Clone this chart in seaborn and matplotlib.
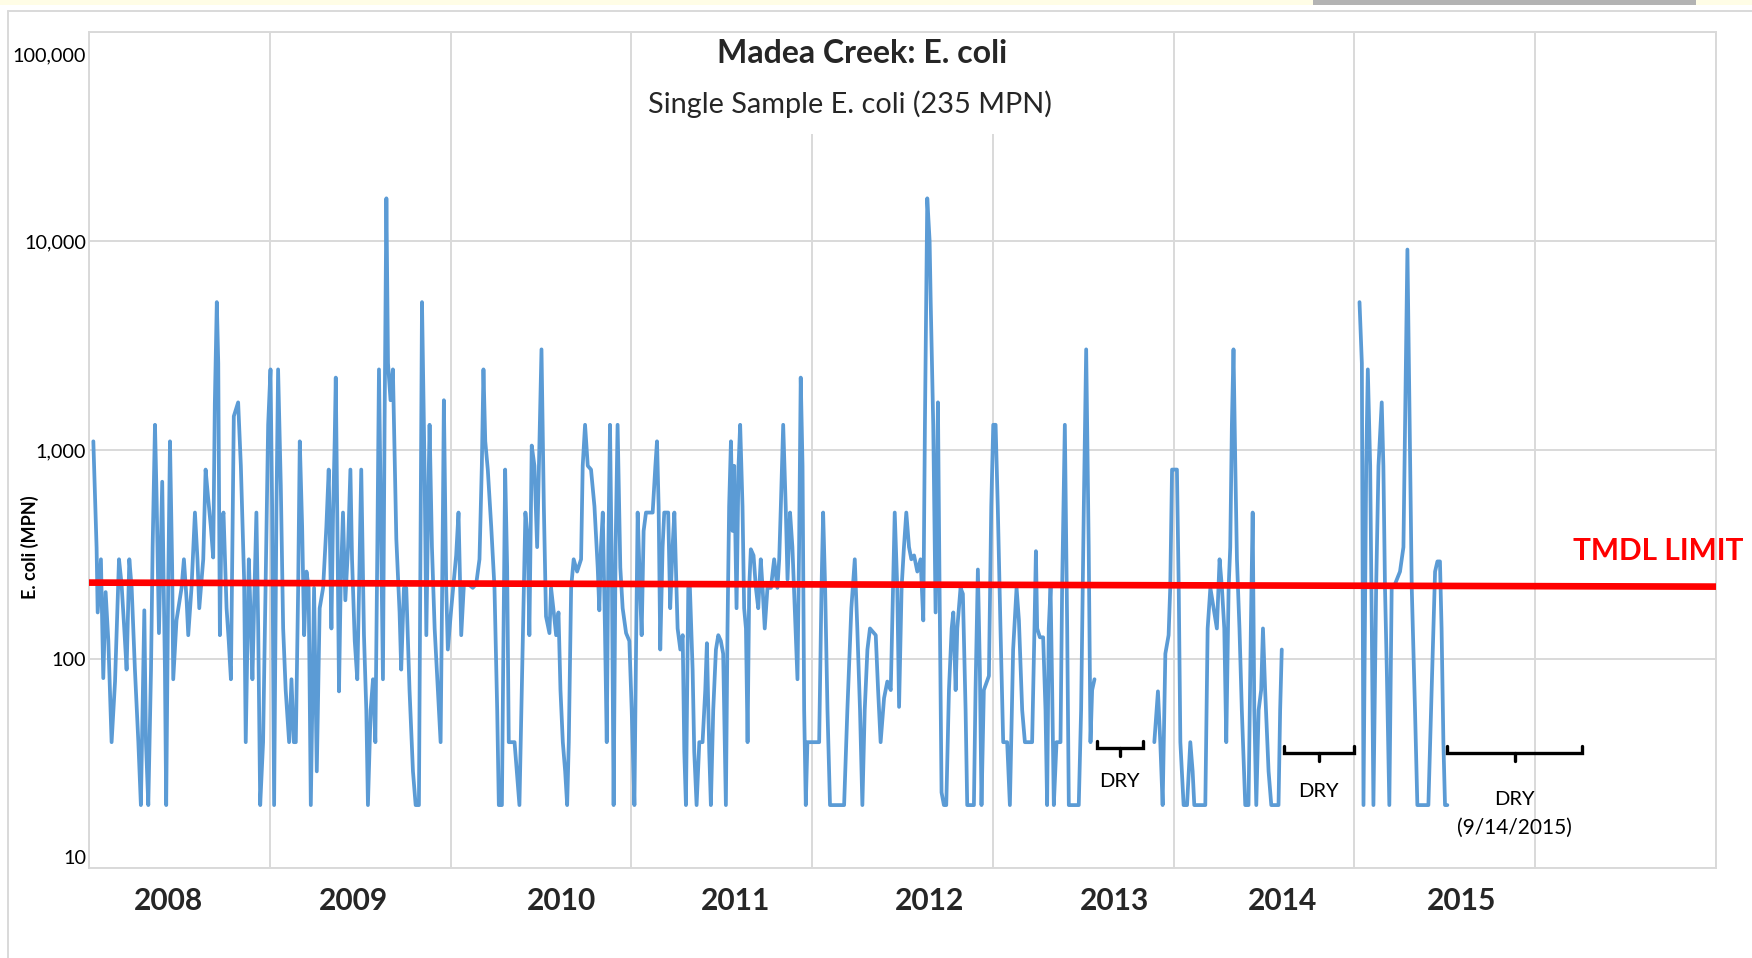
import numpy as np
import pandas as pd
import matplotlib
matplotlib.use("Agg")
import matplotlib.pyplot as plt
import matplotlib.ticker as mticker
import matplotlib.transforms as mtransforms
from matplotlib.patches import Rectangle
from matplotlib.lines import Line2D
import seaborn as sns

# E. coli samples: decimal year, MPN.
# Three wet stretches, separated by the dry periods.
wet1_year = [
    2008.024, 2008.042, 2008.048, 2008.066, 2008.079, 2008.092, 2008.107, 2008.125, 2008.144, 2008.166,
    2008.180, 2008.195, 2008.208, 2008.223, 2008.236, 2008.254, 2008.273, 2008.287, 2008.306, 2008.315,
    2008.328, 2008.343, 2008.352, 2008.365, 2008.374, 2008.387, 2008.405, 2008.420, 2008.427, 2008.438,
    2008.448, 2008.460, 2008.466, 2008.484, 2008.512, 2008.525, 2008.540, 2008.549, 2008.567, 2008.586,
    2008.600, 2008.610, 2008.632, 2008.645, 2008.659, 2008.674, 2008.687, 2008.696, 2008.707, 2008.715,
    2008.724, 2008.733, 2008.744, 2008.761, 2008.773, 2008.785, 2008.801, 2008.825, 2008.840, 2008.858,
    2008.867, 2008.884, 2008.895, 2008.904, 2008.913, 2008.926, 2008.936, 2008.947, 2008.963, 2008.982,
    2008.991, 2009.004, 2009.013, 2009.024, 2009.037, 2009.046, 2009.061, 2009.074, 2009.088, 2009.107,
    2009.120, 2009.133, 2009.144, 2009.157, 2009.166, 2009.179, 2009.190, 2009.203, 2009.215, 2009.227,
    2009.245, 2009.260, 2009.276, 2009.295, 2009.313, 2009.326, 2009.341, 2009.350, 2009.359, 2009.365,
    2009.374, 2009.383, 2009.392, 2009.405, 2009.418, 2009.433, 2009.446, 2009.455, 2009.470, 2009.484,
    2009.494, 2009.506, 2009.521, 2009.534, 2009.543, 2009.558, 2009.571, 2009.584, 2009.595, 2009.604,
    2009.611, 2009.626, 2009.635, 2009.645, 2009.654, 2009.668, 2009.681, 2009.700, 2009.718, 2009.727,
    2009.742, 2009.755, 2009.773, 2009.792, 2009.807, 2009.825, 2009.834, 2009.842, 2009.856, 2009.866,
    2009.878, 2009.884, 2009.897, 2009.912, 2009.930, 2009.945, 2009.958, 2009.963, 2009.976, 2009.985,
    2010.004, 2010.031, 2010.044, 2010.059, 2010.074, 2010.096, 2010.123, 2010.142, 2010.160, 2010.173,
    2010.182, 2010.192, 2010.206, 2010.225, 2010.243, 2010.258, 2010.267, 2010.284, 2010.291, 2010.302,
    2010.313, 2010.322, 2010.354, 2010.381, 2010.400, 2010.414, 2010.427, 2010.436, 2010.449, 2010.464,
    2010.479, 2010.503, 2010.516, 2010.528, 2010.547, 2010.556, 2010.571, 2010.584, 2010.597, 2010.608,
    2010.621, 2010.634, 2010.645, 2010.654, 2010.667, 2010.681, 2010.700, 2010.722, 2010.731, 2010.744,
    2010.759, 2010.777, 2010.796, 2010.814, 2010.823, 2010.832, 2010.842, 2010.854, 2010.864, 2010.873,
    2010.882, 2010.893, 2010.902, 2010.913, 2010.924, 2010.939, 2010.952, 2010.971, 2010.989, 2011.002,
    2011.017, 2011.026, 2011.035, 2011.048, 2011.057, 2011.068, 2011.081, 2011.118, 2011.133, 2011.142,
    2011.151, 2011.160, 2011.173, 2011.182, 2011.204, 2011.215, 2011.228, 2011.238, 2011.256, 2011.271,
    2011.284, 2011.293, 2011.302, 2011.315, 2011.324, 2011.339, 2011.348, 2011.361, 2011.376, 2011.394,
    2011.409, 2011.418, 2011.431, 2011.440, 2011.453, 2011.468, 2011.481, 2011.495, 2011.508, 2011.523,
    2011.532, 2011.541, 2011.551, 2011.560, 2011.569, 2011.582, 2011.593, 2011.602, 2011.615, 2011.624,
    2011.634, 2011.643, 2011.652, 2011.661, 2011.676, 2011.689, 2011.702, 2011.716, 2011.726, 2011.738,
    2011.753, 2011.772, 2011.790, 2011.808, 2011.818, 2011.827, 2011.840, 2011.854, 2011.864, 2011.878,
    2011.891, 2011.904, 2011.919, 2011.928, 2011.937, 2011.947, 2011.956, 2011.965, 2011.974, 2012.039,
    2012.052, 2012.061, 2012.072, 2012.085, 2012.099, 2012.177, 2012.195, 2012.217, 2012.236, 2012.250,
    2012.265, 2012.278, 2012.291, 2012.306, 2012.320, 2012.352, 2012.365, 2012.379, 2012.398, 2012.416,
    2012.435, 2012.448, 2012.457, 2012.471, 2012.481, 2012.495, 2012.508, 2012.521, 2012.536, 2012.549,
    2012.564, 2012.582, 2012.600, 2012.615, 2012.624, 2012.637, 2012.650, 2012.656, 2012.670, 2012.683,
    2012.696, 2012.705, 2012.716, 2012.729, 2012.742, 2012.757, 2012.772, 2012.781, 2012.794, 2012.803,
    2012.821, 2012.834, 2012.849, 2012.858, 2012.895, 2012.904, 2012.917, 2012.928, 2012.937, 2012.950,
    2012.978, 2012.991, 2013.002, 2013.015, 2013.027, 2013.042, 2013.057, 2013.079, 2013.094, 2013.112,
    2013.131, 2013.144, 2013.162, 2013.177, 2013.217, 2013.230, 2013.238, 2013.245, 2013.260, 2013.278,
    2013.291, 2013.300, 2013.309, 2013.319, 2013.328, 2013.337, 2013.352, 2013.374, 2013.383, 2013.398,
    2013.411, 2013.420, 2013.475, 2013.488, 2013.503, 2013.516, 2013.530, 2013.540, 2013.549, 2013.562,
]
wet1_mpn = [
    1100, 340, 167, 300, 81, 209, 122, 40, 78, 300,
    229, 140, 89, 300, 219, 89, 40, 20, 171, 40,
    20, 89, 343, 1320, 589, 133, 705, 89, 20, 219,
    1100, 274, 80, 153, 219, 300, 191, 130, 219, 502,
    300, 175, 300, 806, 589, 429, 306, 1660, 5100, 2600,
    130, 449, 502, 175, 122, 80, 1450, 1690, 840, 240,
    40, 300, 153, 80, 175, 502, 140, 20, 40, 429,
    1320, 2430, 537, 20, 537, 2430, 673, 140, 71, 40,
    80, 40, 40, 219, 1100, 429, 130, 262, 219, 20,
    219, 29, 175, 219, 429, 806, 140, 491, 1100, 2220,
    429, 70, 219, 502, 191, 343, 806, 300, 122, 80,
    219, 806, 130, 57, 20, 57, 80, 40, 343, 2430,
    840, 80, 1320, 16000, 2600, 1730, 2430, 375, 167, 89,
    219, 219, 71, 29, 20, 20, 343, 5100, 840, 130,
    673, 1320, 343, 140, 71, 40, 537, 1730, 219, 111,
    175, 313, 502, 130, 229, 229, 219, 229, 300, 840,
    2430, 1100, 806, 429, 219, 57, 20, 20, 89, 806,
    274, 40, 40, 20, 130, 502, 375, 130, 1050, 840,
    343, 3030, 537, 160, 133, 219, 167, 130, 167, 71,
    40, 29, 20, 40, 219, 300, 262, 300, 840, 1320,
    840, 806, 537, 274, 171, 343, 502, 140, 40, 343,
    1320, 219, 20, 343, 1320, 274, 175, 133, 122, 57,
    20, 111, 502, 219, 130, 410, 502, 502, 840, 1100,
    537, 111, 343, 502, 502, 175, 343, 502, 140, 111,
    130, 36, 20, 219, 219, 89, 36, 20, 40, 40,
    71, 119, 36, 20, 57, 111, 130, 122, 106, 20,
    140, 537, 1100, 410, 840, 175, 840, 1320, 537, 175,
    140, 40, 219, 335, 313, 219, 175, 300, 219, 140,
    219, 219, 300, 219, 300, 537, 1320, 537, 240, 502,
    343, 175, 80, 343, 2220, 840, 57, 20, 40, 40,
    219, 502, 219, 57, 20, 20, 57, 175, 300, 140,
    57, 20, 57, 111, 140, 130, 71, 40, 65, 78,
    71, 219, 502, 219, 59, 219, 343, 502, 343, 300,
    313, 262, 300, 153, 1320, 16000, 10000, 5100, 1320, 167,
    1690, 219, 23, 20, 20, 71, 140, 167, 71, 140,
    219, 205, 57, 20, 20, 71, 268, 89, 20, 71,
    83, 537, 1320, 1320, 537, 140, 40, 40, 20, 111,
    219, 153, 57, 40, 40, 140, 328, 140, 127, 127,
    57, 20, 140, 219, 71, 20, 40, 40, 219, 1320,
    140, 20, 20, 57, 537, 3030, 343, 40, 71, 80,
]

wet2_year = [
    2013.893, 2013.913, 2013.926, 2013.939, 2013.954, 2013.972, 2013.981, 2013.991, 2014.003, 2014.018,
    2014.028, 2014.037, 2014.055, 2014.074, 2014.092, 2014.105, 2014.114, 2014.175, 2014.188, 2014.203,
    2014.221, 2014.239, 2014.254, 2014.267, 2014.280, 2014.291, 2014.304, 2014.313, 2014.322, 2014.331,
    2014.341, 2014.350, 2014.364, 2014.377, 2014.396, 2014.414, 2014.427, 2014.437, 2014.446, 2014.457,
    2014.470, 2014.484, 2014.494, 2014.506, 2014.525, 2014.540, 2014.580, 2014.589, 2014.598,
]
wet2_mpn = [
    40, 70, 40, 20, 106, 130, 219, 806, 806, 806,
    219, 40, 20, 20, 40, 29, 20, 20, 140, 219,
    175, 140, 300, 219, 140, 40, 219, 343, 1320, 3030,
    840, 300, 140, 57, 20, 20, 140, 502, 57, 20,
    57, 71, 140, 71, 29, 20, 20, 57, 111,
]

wet3_year = [
    2015.028, 2015.041, 2015.050, 2015.065, 2015.074, 2015.087, 2015.096, 2015.105, 2015.120, 2015.133,
    2015.151, 2015.160, 2015.169, 2015.179, 2015.193, 2015.206, 2015.225, 2015.252, 2015.271, 2015.280,
    2015.293, 2015.304, 2015.317, 2015.335, 2015.348, 2015.409, 2015.427, 2015.446, 2015.459, 2015.473,
    2015.482, 2015.492, 2015.501, 2015.514,
]
wet3_mpn = [
    5100, 2600, 20, 840, 2430, 840, 140, 20, 219, 840,
    1690, 840, 219, 89, 20, 219, 229, 262, 343, 1320,
    9100, 1660, 219, 57, 20, 20, 71, 262, 293, 293,
    140, 40, 20, 20,
]

# labels and reference values
year_labels = ["2008", "2009", "2010", "2011", "2012", "2013", "2014", "2015"]
year_label_pos = [2008.44, 2009.465, 2010.613, 2011.576, 2012.650, 2013.675, 2014.601, 2015.595]
y_ticks = [10, 100, 1000, 10000, 100000]

tmdl_year = [2008.0, 2017.0]
tmdl_mpn = [232, 222]

dry_start = [2013.575, 2014.608, 2015.514]
dry_end = [2013.832, 2014.998, 2016.260]
dry_mpn = [37.5, 35.5, 35.5]

note_year = [2013.70, 2014.80, 2015.887, 2015.887]
note_mpn = [25.9, 23.2, 21.3, 15.5]
note_text = ["DRY", "DRY", "DRY", "(9/14/2015)"]

BLUE = "#5B9BD5"
RED = "#FF0000"
GRID = "#D9D9D9"
W, H = 1752, 958

sns.set_theme(style="white")
plt.rcParams["font.family"] = ["Lato", "DejaVu Sans"]

segments = [(wet1_year, wet1_mpn), (wet2_year, wet2_mpn), (wet3_year, wet3_mpn)]
df = pd.concat(
    [pd.DataFrame({"year": yr, "mpn": v, "segment": i}) for i, (yr, v) in enumerate(segments)],
    ignore_index=True,
)

fig = plt.figure(figsize=(W / 100, H / 100), dpi=100)
fig.patch.set_facecolor("white")
ax = fig.add_axes([89 / W, 1 - 868 / H, 1627 / W, 836 / H])

sns.lineplot(data=df, x="year", y="mpn", units="segment", estimator=None,
             color=BLUE, linewidth=2.7, ax=ax, zorder=3)

# TMDL limit
ax.plot(tmdl_year, tmdl_mpn, color=RED, linewidth=4.8, zorder=4, solid_capstyle="butt")
ax.text(2016.68, 330, "TMDL LIMIT", color=RED, fontsize=21.5, fontweight="bold",
        ha="center", va="center", clip_on=False, zorder=5)

# dry period brackets
for x0, x1, lvl in zip(dry_start, dry_end, dry_mpn):
    xm = (x0 + x1) / 2
    ax.plot([x0, x0, x1, x1], [lvl * 1.08, lvl, lvl, lvl * 1.08], color="black",
            linewidth=2.4, solid_joinstyle="miter", zorder=4)
    ax.plot([xm, xm], [lvl, lvl / 1.09], color="black", linewidth=2.4, zorder=4)
for x, y, t in zip(note_year, note_mpn, note_text):
    ax.text(x, y, t, fontsize=15 if t.startswith("(") else 14.5,
            ha="center", va="center", color="black", zorder=5)

# axes
ax.set_yscale("log")
ax.set_ylim(10, 100000)
ax.set_xlim(2008, 2017)
ax.yaxis.set_major_locator(mticker.FixedLocator(y_ticks))
ax.yaxis.set_minor_locator(mticker.NullLocator())
ax.yaxis.set_major_formatter(mticker.FuncFormatter(lambda v, _: f"{int(round(v)):,}"))
ax.set_xticks(year_label_pos, year_labels)
ax.set_xticks(np.arange(2008, 2018), minor=True)

ax.set_axisbelow(True)
ax.grid(True, which="minor", axis="x", color=GRID, linewidth=1.4)
ax.grid(True, which="major", axis="y", color=GRID, linewidth=1.4)
ax.grid(False, which="major", axis="x")
for s in ax.spines.values():
    s.set_color(GRID)
    s.set_linewidth(1.4)

ax.tick_params(axis="x", which="both", length=0, pad=14, labelsize=21.5)
ax.tick_params(axis="y", which="both", length=0, pad=2, labelsize=14.3, labelcolor="black")
for lab in ax.get_xticklabels():
    lab.set_fontweight("bold")

ylabs = ax.get_yticklabels()
ylabs[-1].set_transform(ylabs[-1].get_transform() +
                        mtransforms.ScaledTranslation(0, -0.22, fig.dpi_scale_trans))
ylabs[0].set_transform(ylabs[0].get_transform() +
                       mtransforms.ScaledTranslation(0, 0.11, fig.dpi_scale_trans))

ax.set_xlabel("")
ax.set_ylabel("E. coli (MPN)", fontsize=13, fontweight="bold", color="black")
ax.yaxis.set_label_coords(-0.031, 0.384)

# title block on a white box over the grid
ax.add_patch(Rectangle((0.339, 0.878), 0.322, 0.121, transform=ax.transAxes,
                       facecolor="white", edgecolor="none", zorder=1))
ax.text(0.475, 0.974, "Madea Creek: E. coli", transform=ax.transAxes, fontsize=23,
        fontweight="bold", ha="center", va="center", zorder=5)
ax.text(0.468, 0.914, "Single Sample E. coli (235 MPN)", transform=ax.transAxes,
        fontsize=20.8, ha="center", va="center", zorder=5)

# screenshot frame: yellow strip, grey bar, chart border
fig.patches.append(Rectangle((0, 1 - 5 / H), 1, 5 / H, transform=fig.transFigure,
                             facecolor="#FFFDE6", edgecolor="none"))
fig.patches.append(Rectangle((1313 / W, 1 - 5 / H), 383 / W, 5 / H, transform=fig.transFigure,
                             facecolor="#B3B3B3", edgecolor="none"))
fig.lines.append(Line2D([8 / W, 1], [1 - 11 / H, 1 - 11 / H], transform=fig.transFigure,
                        color=GRID, linewidth=1.4))
fig.lines.append(Line2D([8 / W, 8 / W], [0, 1 - 11 / H], transform=fig.transFigure,
                        color=GRID, linewidth=1.4))

fig.savefig("out.png", dpi=100)
